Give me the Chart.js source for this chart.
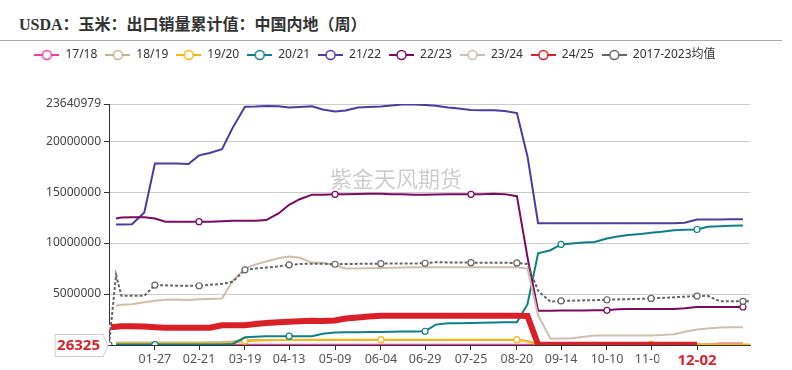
<!DOCTYPE html>
<html lang="zh-CN">
<head>
<meta charset="utf-8">
<title>USDA：玉米：出口销量累计值：中国内地（周）</title>
<script src="https://cdn.jsdelivr.net/npm/chart.js@4.4.1/dist/chart.umd.min.js"></script>
<style>
  html, body { margin: 0; padding: 0; background: #fff; }
  body { width: 792px; height: 370px; position: relative; overflow: hidden; }
  #titulo {
    position: absolute; left: 19px; top: 11px; line-height: 22px; white-space: nowrap;
    font: bold 16px "Liberation Serif", "Noto Sans CJK SC", serif; color: #333;
  }
  #linea { position: absolute; left: 0; top: 40px; width: 782px; border-top: 1px solid #aaa; }
  #marco { position: absolute; left: 0; top: 41px; width: 792px; height: 329px; }
</style>
</head>
<body>
<div id="titulo">USDA：玉米：出口销量累计值：中国内地（周）</div>
<div id="linea"></div>
<div id="marco"><canvas id="grafico" width="792" height="329"></canvas></div>
<script>
"use strict";

// =============================================================
// DATOS (millones de toneladas, eje X = día del año)
// =============================================================
const dias = [
  0, 4, 7, 13, 20,
  26, 32, 38, 45, 51,
  57, 64, 70, 77, 83,
  89, 96, 102, 108, 115,
  121, 128, 134, 141, 147,
  154, 160, 166, 173, 179,
  185, 192, 198, 205, 211,
  218, 224, 231, 237, 243,
  250, 256, 262, 269, 275,
  282, 288, 294, 301, 307,
  313, 320, 326, 333, 339,
  346, 352, 359, 363
];

const diasEtiqueta = [26, 51, 77, 102, 128, 154, 179, 205, 231, 256, 282, 307, 333];
const etiquetasX = ["01-27", "02-21", "03-19", "04-13", "05-09", "06-04", "06-29",
                    "07-25", "08-20", "09-14", "10-10", "11-05", "12-02"];
const diaDestacado = 333;
const ticksY = [0, 5, 10, 15, 20, 23.640979];

const temporadas = ["17/18", "18/19", "19/20", "20/21", "21/22", "22/23", "23/24", "24/25", "2017-2023均值"];

const s1718 = [
  null, 0.02, 0.02, 0.02, 0.02,
  0.02, 0.02, 0.02, 0.02, 0.02,
  0.02, 0.02, 0.02, 0.02, 0.02,
  0.02, 0.02, 0.02, 0.02, 0.02,
  0.02, 0.02, 0.02, 0.02, 0.02,
  0.02, 0.02, 0.02, 0.02, 0.02,
  0.02, 0.02, 0.02, 0.02, 0.02,
  0.02, 0.02, 0.02, 0.02, 0.02,
  0.02, 0.02, 0.02, 0.02, 0.02,
  0.02, 0.02, 0.02, 0.02, 0.02,
  0.02, 0.02, 0.02, 0.02, 0.05,
  0.14, 0.14, 0.14, null
];
const s1819 = [
  null, 0.25, 0.25, 0.25, 0.25,
  0.25, 0.25, 0.25, 0.25, 0.25,
  0.28, 0.3, 0.35, 0.5, 0.5,
  0.5, 0.5, 0.5, 0.5, 0.5,
  0.5, 0.5, 0.5, 0.5, 0.5,
  0.5, 0.5, 0.5, 0.5, 0.5,
  0.5, 0.5, 0.5, 0.5, 0.5,
  0.5, 0.5, 0.48, 0.4, 0.08,
  0.08, 0.08, 0.08, 0.08, 0.08,
  0.08, 0.08, 0.08, 0.08, 0.08,
  0.08, 0.08, 0.08, 0.08, 0.08,
  0.08, 0.08, 0.08, null
];
const s1920 = [
  null, 0.15, 0.15, 0.15, 0.15,
  0.15, 0.15, 0.15, 0.15, 0.15,
  0.15, 0.15, 0.2, 0.38, 0.42,
  0.46, 0.5, 0.52, 0.52, 0.52,
  0.52, 0.52, 0.52, 0.52, 0.52,
  0.52, 0.52, 0.52, 0.52, 0.52,
  0.52, 0.52, 0.52, 0.52, 0.52,
  0.52, 0.52, 0.52, 0.35, 0.05,
  0.06, 0.06, 0.06, 0.06, 0.06,
  0.06, 0.06, 0.06, 0.06, 0.06,
  0.06, 0.06, 0.06, 0.06, 0.06,
  0.06, 0.06, 0.06, 0.06
];
const s2021 = [
  null, 0.04, 0.04, 0.04, 0.04,
  0.04, 0.04, 0.04, 0.04, 0.04,
  0.04, 0.05, 0.1, 0.75, 0.8,
  0.85, 0.87, 0.87, 0.87, 0.87,
  1.1, 1.23, 1.25, 1.26, 1.27,
  1.28, 1.3, 1.32, 1.33, 1.35,
  2.0, 2.13, 2.13, 2.15, 2.18,
  2.2, 2.22, 2.23, 4.0, 9.0,
  9.3, 9.87, 9.95, 10.05, 10.1,
  10.45, 10.65, 10.8, 10.9, 11.0,
  11.1, 11.25, 11.3, 11.33, 11.6,
  11.65, 11.7, 11.72, null
];
const s2122 = [
  null, 11.82, 11.82, 11.85, 13.0,
  17.8, 17.8, 17.8, 17.75, 18.6,
  18.84, 19.2, 21.3, 23.38, 23.4,
  23.45, 23.42, 23.3, 23.35, 23.42,
  23.1, 22.9, 23.0, 23.3, 23.35,
  23.4, 23.5, 23.6, 23.58, 23.55,
  23.47, 23.3, 23.2, 23.05, 23.03,
  23.03, 22.95, 22.75, 18.5, 11.95,
  11.95, 11.95, 11.95, 11.95, 11.95,
  11.95, 11.95, 11.95, 11.95, 11.95,
  11.95, 11.95, 12.0, 12.3, 12.3,
  12.32, 12.34, 12.34, null
];
const s2223 = [
  null, 12.4, 12.5, 12.53, 12.53,
  12.4, 12.1, 12.1, 12.1, 12.1,
  12.1, 12.15, 12.2, 12.2, 12.2,
  12.25, 12.9, 13.75, 14.3, 14.75,
  14.75, 14.78, 14.8, 14.82, 14.84,
  14.84, 14.8, 14.78, 14.75, 14.75,
  14.77, 14.78, 14.78, 14.78, 14.8,
  14.84, 14.8, 14.6, 8.6, 3.37,
  3.37, 3.38, 3.38, 3.39, 3.4,
  3.4, 3.5, 3.54, 3.54, 3.54,
  3.54, 3.54, 3.6, 3.73, 3.73,
  3.73, 3.73, 3.73, null
];
const s2324 = [
  null, 3.86, 3.95, 4.0, 4.2,
  4.35, 4.45, 4.47, 4.41, 4.48,
  4.52, 4.57, 6.3, 7.5, 7.9,
  8.2, 8.5, 8.68, 8.55, 8.08,
  8.08, 7.8, 7.5, 7.5, 7.52,
  7.55, 7.58, 7.6, 7.62, 7.63,
  7.63, 7.63, 7.63, 7.63, 7.63,
  7.63, 7.63, 7.63, 7.5, 2.9,
  0.62, 0.63, 0.66, 0.8, 0.94,
  0.94, 0.94, 0.94, 0.94, 0.94,
  0.97, 1.05, 1.3, 1.52, 1.62,
  1.72, 1.74, 1.74, null
];
const s2425 = [
  1.75, 1.8, 1.83, 1.84, 1.82,
  1.75, 1.69, 1.69, 1.69, 1.69,
  1.69, 1.94, 1.94, 1.94, 2.05,
  2.15, 2.23, 2.28, 2.33, 2.38,
  2.35, 2.4, 2.6, 2.7, 2.8,
  2.88, 2.88, 2.88, 2.88, 2.88,
  2.88, 2.88, 2.88, 2.88, 2.88,
  2.88, 2.88, 2.88, 2.85, 0.03,
  0.03, 0.03, 0.03, 0.03, 0.03,
  0.03, 0.03, 0.03, 0.03, 0.03,
  0.03, 0.03, 0.03, 0.03, null,
  null, null, null, null
];
const sPromedio = [
  0.026325, 6.88, 4.83, 4.83, 4.83,
  5.88, 5.85, 5.82, 5.82, 5.81,
  5.9, 6.0, 6.2, 7.37, 7.5,
  7.6, 7.7, 7.86, 7.95, 7.98,
  7.98, 7.92, 7.95, 7.96, 7.97,
  7.98, 7.99, 8.0, 8.0, 8.02,
  8.12, 8.1, 8.1, 8.08, 8.08,
  8.07, 8.06, 8.05, 7.95, 5.32,
  4.25, 4.32, 4.35, 4.38, 4.4,
  4.44, 4.47, 4.5, 4.53, 4.57,
  4.62, 4.68, 4.74, 4.8, 4.83,
  4.28, 4.28, 4.28, 4.28
];

// =============================================================
// ESTILO
// =============================================================
Chart.defaults.font.family = '"Noto Sans", "Noto Sans CJK SC", sans-serif';
const colores = ["#ee3fa5", "#c4b48b", "#f6b817", "#0f7f88", "#4b3d9b", "#7b0b60", "#cdbfae", "#d91f28", "#666666"];
const rojo = "#d9232b";

// días con símbolo en cada serie (como en el original)
const marcasCada = (ini) => [...diasEtiqueta, 359].filter((d, i) => i % 3 === ini);
const marcas = [
  [], [], marcasCada(2), marcasCada(0), [], marcasCada(1), [], [0], [0, ...diasEtiqueta, 359]
];

const series = [s1718, s1819, s1920, s2021, s2122, s2223, s2324, s2425, sPromedio];

const datasets = series.map((serie, i) => ({
  label: temporadas[i],
  data: dias.map((d, k) => ({ x: d, y: serie[k] })),
  borderColor: colores[i],
  backgroundColor: colores[i],
  borderWidth: i === 7 ? 6 : 2,
  borderDash: i === 8 ? [3, 2] : [],
  pointStyle: "circle",
  pointBackgroundColor: "#fff",
  pointBorderColor: colores[i],
  pointBorderWidth: 1.2,
  pointRadius: ctx => (ctx.raw && marcas[i].includes(ctx.raw.x)) ? 3 : 0,
  tension: 0,
  order: series.length - i
}));

function iconoLeyenda(color) {
  const c = document.createElement("canvas");
  c.width = 25; c.height = 14;
  const g = c.getContext("2d");
  g.strokeStyle = color; g.lineWidth = 2;
  g.beginPath(); g.moveTo(0, 7); g.lineTo(25, 7); g.stroke();
  g.fillStyle = "#fff"; g.lineWidth = 1.5;
  g.beginPath(); g.arc(12.5, 7, 4.5, 0, Math.PI * 2); g.fill(); g.stroke();
  return c;
}
const iconos = colores.map(iconoLeyenda);

// =============================================================
// PLUGINS
// =============================================================
const espacioLeyenda = {
  id: "espacioLeyenda",
  beforeInit(chart) {
    const fitOriginal = chart.legend.fit;
    chart.legend.fit = function () { fitOriginal.bind(chart.legend)(); this.height += 33; };
  }
};

const marcaAgua = {
  id: "marcaAgua",
  beforeDatasetsDraw(chart) {
    const { ctx, chartArea } = chart;
    ctx.save();
    ctx.font = '22px "Noto Sans CJK SC", sans-serif';
    ctx.fillStyle = "rgba(0,0,0,0.2)";
    ctx.textAlign = "center";
    ctx.textBaseline = "middle";
    ctx.fillText("紫金天风期货", chart.width / 2, chartArea.top + (chartArea.bottom - chartArea.top) * 0.31);
    ctx.restore();
  }
};

const marcaMinimo = {
  id: "marcaMinimo",
  afterDraw(chart) {
    const { ctx, scales: { y } } = chart;
    const valor = sPromedio[0];
    const py = Math.round(y.getPixelForValue(valor)) + 0.5;
    const texto = String(Math.round(valor * 1e6));
    ctx.save();
    ctx.font = 'bold 15px "Noto Sans", sans-serif';
    const w = ctx.measureText(texto).width;
    const punta = y.right - 1;
    const der = punta - 5;
    const izq = der - w - 5;
    ctx.beginPath();
    ctx.moveTo(izq, py - 11);
    ctx.lineTo(der, py - 11);
    ctx.lineTo(punta, py);
    ctx.lineTo(der, py + 11);
    ctx.lineTo(izq, py + 11);
    ctx.closePath();
    ctx.fillStyle = "#fff";
    ctx.fill();
    ctx.strokeStyle = "#ccc";
    ctx.lineWidth = 1;
    ctx.stroke();
    ctx.fillStyle = rojo;
    ctx.textBaseline = "middle";
    ctx.fillText(texto, izq + 2, py);
    ctx.restore();
  }
};

// =============================================================
// GRÁFICO
// =============================================================
new Chart(document.getElementById("grafico"), {
  type: "line",
  data: { datasets },
  options: {
    responsive: false,
    animation: false,
    layout: { padding: { left: 0, right: 42, top: 0, bottom: 0 } },
    plugins: {
      tooltip: { enabled: false },
      legend: {
        position: "top",
        labels: {
          usePointStyle: true,
          pointStyleWidth: 25,
          padding: 8,
          color: "#333",
          font: { size: 12 },
          sort: (a, b) => a.datasetIndex - b.datasetIndex,
          generateLabels: chart => Chart.defaults.plugins.legend.labels.generateLabels(chart)
            .map(it => ({ ...it, pointStyle: iconos[it.datasetIndex] }))
        }
      }
    },
    scales: {
      x: {
        type: "linear",
        min: 0,
        max: 363,
        afterBuildTicks: s => { s.ticks = diasEtiqueta.map(v => ({ value: v })); },
        afterFit: s => { s.height = 25; },
        border: { color: "#333" },
        grid: { drawOnChartArea: false, tickLength: 5, tickColor: "#333" },
        ticks: {
          autoSkip: false,
          maxRotation: 0,
          padding: 2,
          color: ctx => (ctx.tick && ctx.tick.value === diaDestacado) ? rojo : "#555",
          font: ctx => (ctx.tick && ctx.tick.value === diaDestacado) ? { size: 15, weight: "bold" } : { size: 12.5 },
          showLabelBackdrop: ctx => !!(ctx.tick && ctx.tick.value === diaDestacado),
          backdropColor: "#fff",
          backdropPadding: { top: 0, bottom: 0, left: 18, right: 15 },
          callback: v => {
            const i = diasEtiqueta.indexOf(v);
            return i >= 0 ? etiquetasX[i] : "";
          }
        }
      },
      y: {
        min: 0,
        max: ticksY[ticksY.length - 1],
        afterBuildTicks: s => { s.ticks = ticksY.map(v => ({ value: v })); },
        afterFit: s => { s.width = 109; },
        border: { color: "#333" },
        grid: {
          color: ctx => (ctx.tick && ctx.tick.value === 0) ? "rgba(0,0,0,0)" : "#ccc",
          tickLength: 5,
          tickColor: "#333"
        },
        ticks: {
          color: "#444",
          font: { size: 12 },
          padding: 3,
          callback: v => v === 0 ? "" : String(Math.round(v * 1e6))
        }
      }
    }
  },
  plugins: [espacioLeyenda, marcaAgua, marcaMinimo]
});
</script>
</body>
</html>
